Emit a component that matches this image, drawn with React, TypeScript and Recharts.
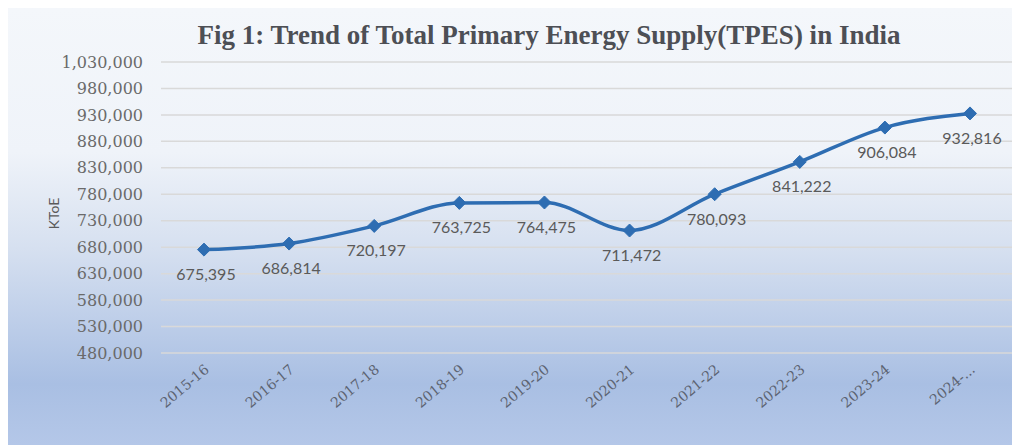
import { CartesianGrid, LabelList, Line, LineChart, XAxis, YAxis, Label } from "recharts";

const years = ["2015-16", "2016-17", "2017-18", "2018-19", "2019-20", "2020-21", "2021-22", "2022-23", "2023-24", "2024-..."];
const tpes = [675395, 686814, 720197, 763725, 764475, 711472, 780093, 841222, 906084, 932816];
const yTicks = [480000, 530000, 580000, 630000, 680000, 730000, 780000, 830000, 880000, 930000, 980000, 1030000];

const data = years.map((year, i) => ({ year, tpes: tpes[i] }));

const fmt = (v: number) => v.toLocaleString("en-US");

const Diamond = (props: any) => {
  const { cx, cy } = props;
  if (cx == null || cy == null) return null;
  const r = 6.5;
  return (
    <polygon
      points={`${cx},${cy - r} ${cx + r},${cy} ${cx},${cy + r} ${cx - r},${cy}`}
      fill="#2e6db2"
      stroke="#2e6db2"
    />
  );
};

const XTick = (props: any) => {
  const { x, y, payload } = props;
  return (
    <text
      x={x + 6}
      y={y + 10}
      textAnchor="end"
      transform={`rotate(-40, ${x + 6}, ${y + 10})`}
      fontFamily="'DejaVu Serif', serif"
      fontSize={14}
      fill="#5d6472"
    >
      {payload.value}
    </text>
  );
};

const ValueLabel = (props: any) => {
  const { x, y, value } = props;
  return (
    <text x={x + 2} y={y + 24} textAnchor="middle" dominantBaseline="central" fontFamily="Lato, sans-serif" fontSize={16} fill="#5a5a5a">
      {fmt(value)}
    </text>
  );
};

export default function App() {
  return (
    <div
      style={{
        position: "relative",
        width: 1014,
        height: 437,
        marginLeft: -2,
        background: "linear-gradient(to bottom, #f4f7fb 0%, #eff3f9 33%, #d6e0f0 55%, #a9bfe3 86%, #b4c7e8 100%)",
      }}
    >
      <div
        style={{
          position: "absolute",
          top: 12,
          left: 0,
          width: 1086,
          textAlign: "center",
          fontFamily: "'Liberation Serif', serif",
          fontWeight: "bold",
          fontSize: 27,
          color: "#4d4f55",
        }}
      >
        Fig 1: Trend of Total Primary Energy Supply(TPES) in India
      </div>
      <LineChart width={1014} height={437} data={data} margin={{ top: 54, right: 8, left: 0, bottom: 0 }}>
        <CartesianGrid vertical={false} stroke="#d9d9d9" strokeWidth={1.5} />
        <XAxis
          dataKey="year"
          axisLine={false}
          tickLine={false}
          height={92}
          interval={0}
          padding={{ left: 43, right: 42 }}
          tick={<XTick />}
        />
        <YAxis
          width={155}
          domain={[480000, 1030000]}
          ticks={yTicks}
          tickFormatter={fmt}
          axisLine={false}
          tickLine={false}
          tickMargin={12}
          tick={{ fontFamily: "'DejaVu Serif', serif", fontSize: 16, fill: "#6a6a6a" }}
        >
          <Label
            content={(p: any) => {
              const vb = p.viewBox || { x: 0, y: 54, height: 291 };
              const cx = vb.x + 47;
              const cy = vb.y + vb.height / 2 + 6;
              return (
                <text x={cx} y={cy} textAnchor="middle" dominantBaseline="central" transform={`rotate(-90, ${cx}, ${cy})`} fontFamily="Lato, sans-serif" fontSize={14} fill="#5a5a5a">
                  KToE
                </text>
              );
            }}
          />
        </YAxis>
        <Line
          type="monotone"
          dataKey="tpes"
          stroke="#2e6db2"
          strokeWidth={3.5}
          dot={<Diamond />}
          activeDot={false}
          isAnimationActive={false}
        >
          <LabelList dataKey="tpes" content={<ValueLabel />} />
        </Line>
      </LineChart>
    </div>
  );
}
